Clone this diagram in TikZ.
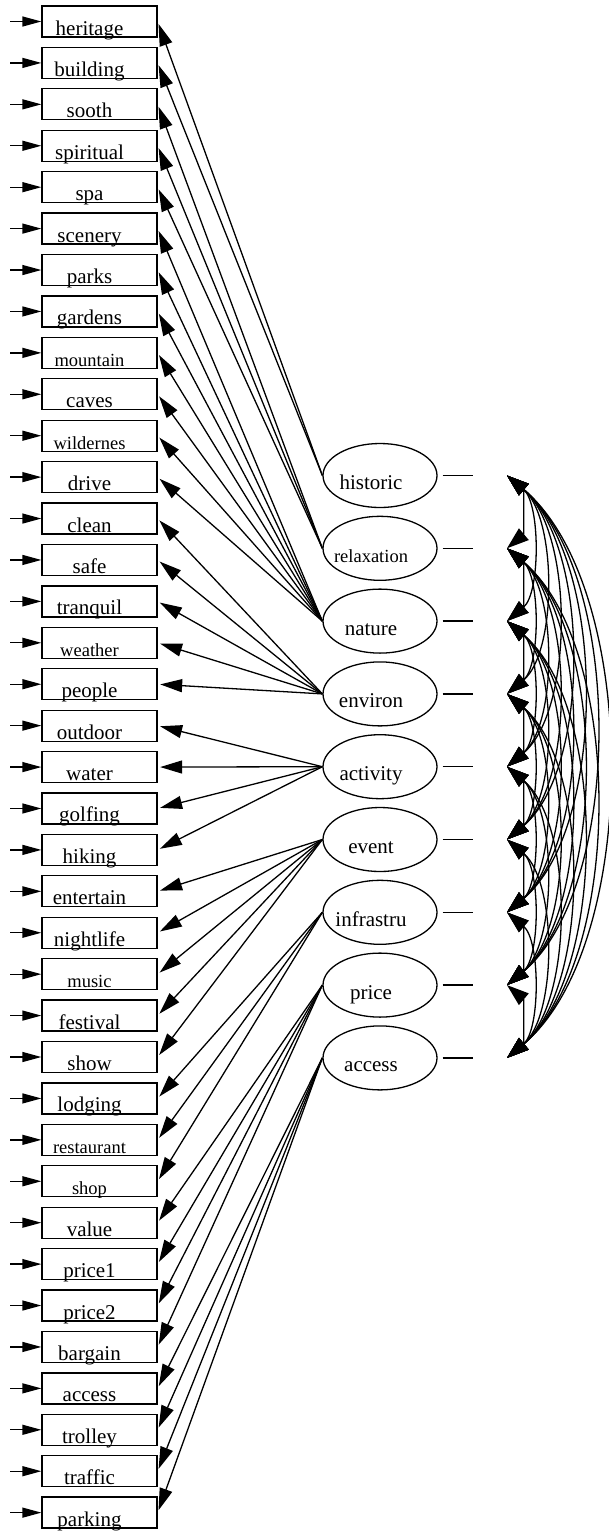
\documentclass[tikz,border=0pt]{standalone}
\usepackage{fontspec}
\setmainfont{Liberation Serif}
\usetikzlibrary{arrows.meta,shapes.geometric}
\begin{document}
\begin{tikzpicture}[x=1pt,y=-1pt,line width=1.3pt,
  obs/.style={draw,rectangle,minimum width=115pt,minimum height=31pt,inner sep=0pt},
  lat/.style={draw,ellipse,minimum width=114pt,minimum height=64pt,inner sep=0pt},
  lbl/.style={anchor=base,inner sep=0pt,font=\fontsize{21}{24}\selectfont},
  slbl/.style={anchor=base,inner sep=0pt,font=\fontsize{18.5}{22}\selectfont},
  err/.style={-{Triangle[length=19pt,width=10pt]}},
  load/.style={-{Triangle[length=22pt,width=13pt]},shorten >=2.5pt},
  cov/.style={{Triangle[length=22pt,width=15pt]}-{Triangle[length=22pt,width=15pt]}},
]
\useasboundingbox (0,0) rectangle (609,1532);

% latent factors, their stubs and covariance anchor points
\foreach \fn/\sz [count=\m from 1] in {historic/lbl,relaxation/slbl,nature/lbl,
    environ/lbl,activity/lbl,event/lbl,infrastru/lbl,price/lbl,access/lbl}{
  \node[lat] (f\m) at (380,{475.5+72.8*(\m-1)}) {};
  \node[\sz] (ft\m) at (371,{489.5+72.8*(\m-1)}) {\fn};
  \coordinate (r\m) at (473,{475.5+72.8*(\m-1)});
  \coordinate (c\m) at (507,{475.5+72.8*(\m-1)});
  \draw ([xshift=5pt]f\m.east) -- (r\m);
}

% covariances between all pairs of factors
\foreach \i in {1,...,8}{
  \pgfmathtruncatemacro\lo{\i+1}
  \foreach \j in {\lo,...,9}{
    \pgfmathsetmacro\L{0.30*72.8*(\j-\i)}
    \pgfmathsetmacro\a{0.766*\L}
    \pgfmathsetmacro\b{0.643*\L}
    \draw[cov] (c\i) .. controls +(\a,\b) and +(\a,-\b) .. (c\j);
  }
}

% observed indicators with error arrows and loadings
\foreach \name/\sz/\f [count=\k from 0] in {
    heritage/lbl/1,building/lbl/1,
    sooth/lbl/2,spiritual/lbl/2,spa/lbl/2,
    scenery/lbl/3,parks/lbl/3,gardens/lbl/3,mountain/slbl/3,caves/lbl/3,wildernes/slbl/3,drive/lbl/3,
    clean/lbl/4,safe/lbl/4,tranquil/lbl/4,weather/slbl/4,people/lbl/4,
    outdoor/lbl/5,water/lbl/5,golfing/lbl/5,hiking/lbl/5,
    entertain/lbl/6,nightlife/lbl/6,music/slbl/6,festival/lbl/6,show/lbl/6,
    lodging/lbl/7,restaurant/slbl/7,shop/slbl/7,
    value/lbl/8,price1/lbl/8,price2/lbl/8,bargain/lbl/8,
    access/lbl/9,trolley/lbl/9,traffic/lbl/9,parking/lbl/9}{
  \node[obs] (b\k) at (99.5,{21.5+41.42*\k}) {};
  \node[\sz] (t\k) at (89.5,{21.5+41.42*\k+13.5}) {\name};
  \coordinate (e\k) at (10,{21.5+41.42*\k});
  \draw[err] (e\k) -- (b\k.west);
  \draw[load] (f\f.west) -- (b\k.east);
}
\end{tikzpicture}
\end{document}
